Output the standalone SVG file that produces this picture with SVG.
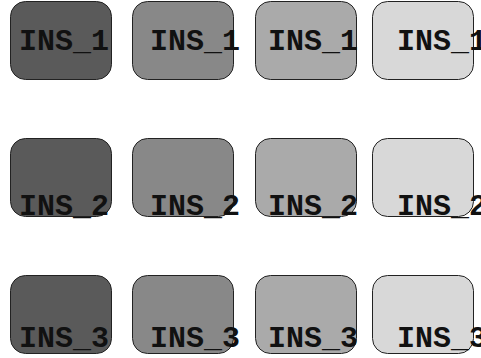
<svg xmlns="http://www.w3.org/2000/svg" width="481" height="358" viewBox="0 0 481 358">
<style>
.b{stroke:#222;stroke-width:1}
.c1{fill:#5a5a5a}.c2{fill:#888}.c3{fill:#aaa}.c4{fill:#d8d8d8}
text{font-family:"Liberation Mono","Courier New",monospace;font-weight:bold;font-size:30px;fill:#111}
</style>
<rect width="481" height="358" fill="#fff"/>
<g id="connectors"/>
<g id="n11"><rect class="b c1" x="10.5" y="1.5" width="101" height="78" rx="15"/><text x="19" y="50">INS_1</text></g>
<g id="n12"><rect class="b c2" x="132.5" y="1.5" width="101" height="78" rx="15"/><text x="150" y="50">INS_1</text></g>
<g id="n13"><rect class="b c3" x="255.5" y="1.5" width="101" height="78" rx="15"/><text x="268" y="50">INS_1</text></g>
<g id="n14"><rect class="b c4" x="372.5" y="1.5" width="101" height="78" rx="15"/><text x="397" y="50">INS_1</text></g>
<g id="n21"><rect class="b c1" x="10.5" y="138.5" width="101" height="78" rx="15"/><text x="19" y="215">INS_2</text></g>
<g id="n22"><rect class="b c2" x="132.5" y="138.5" width="101" height="78" rx="15"/><text x="150" y="215">INS_2</text></g>
<g id="n23"><rect class="b c3" x="255.5" y="138.5" width="101" height="78" rx="15"/><text x="268" y="215">INS_2</text></g>
<g id="n24"><rect class="b c4" x="372.5" y="138.5" width="101" height="78" rx="15"/><text x="397" y="215">INS_2</text></g>
<g id="n31"><rect class="b c1" x="10.5" y="275.5" width="101" height="78" rx="15"/><text x="19" y="347">INS_3</text></g>
<g id="n32"><rect class="b c2" x="132.5" y="275.5" width="101" height="78" rx="15"/><text x="150" y="347">INS_3</text></g>
<g id="n33"><rect class="b c3" x="255.5" y="275.5" width="101" height="78" rx="15"/><text x="268" y="347">INS_3</text></g>
<g id="n34"><rect class="b c4" x="372.5" y="275.5" width="101" height="78" rx="15"/><text x="397" y="347">INS_3</text></g>
</svg>
